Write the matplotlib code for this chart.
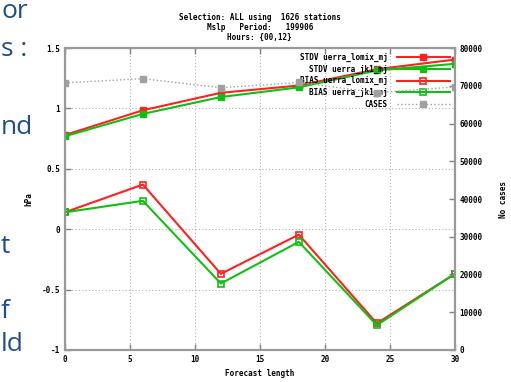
import numpy as np
import matplotlib.pyplot as plt

# forecast lengths (hours)
fclen = [0, 6, 12, 18, 24, 30]

stdv_lomix = [0.78, 0.985, 1.13, 1.19, 1.325, 1.405]
stdv_jk1 = [0.77, 0.955, 1.095, 1.175, 1.315, 1.37]
bias_lomix = [0.14, 0.37, -0.37, -0.045, -0.78, -0.37]
bias_jk1 = [0.14, 0.235, -0.45, -0.105, -0.795, -0.37]
cases = [70800, 71900, 69500, 70900, 68200, 69700]

title = "Selection: ALL using  1626 stations\nMslp   Period:   199906\nHours: {00,12}"
labels = ["STDV uerra_lomix_mj", "STDV uerra_jk1_mj",
          "BIAS uerra_lomix_mj", "BIAS uerra_jk1_mj", "CASES"]

mono = "DejaVu Sans Mono"
tsize = 5.5
red = "#ff2020"
green = "#10c010"
grey = "#a0a0a0"

fig = plt.figure(figsize=(5.11, 3.82), dpi=100)
ax = fig.add_axes([0.127, 0.084, 0.763, 0.79])
ax2 = ax.twinx()

h1, = ax.plot(fclen, stdv_lomix, "-", color=red, lw=1.5, marker="s", ms=4)
h2, = ax.plot(fclen, stdv_jk1, "-", color=green, lw=1.5, marker="s", ms=4)
h3, = ax.plot(fclen, bias_lomix, "-", color=red, lw=1.5, marker="s", ms=4,
              mfc="none", mew=1.2)
h4, = ax.plot(fclen, bias_jk1, "-", color=green, lw=1.5, marker="s", ms=4,
              mfc="none", mew=1.2)
h5, = ax2.plot(fclen, cases, ":", color=grey, lw=1, marker="s", ms=5)

ax.set_xlim(0, 30)
ax.set_ylim(-1, 1.5)
ax2.set_ylim(0, 80000)
ax.set_xticks(range(0, 31, 5))
ax.set_yticks([-1, -0.5, 0, 0.5, 1, 1.5])
ax.set_yticklabels(["-1", "-0.5", "0", "0.5", "1", "1.5"])
ax2.set_yticks(range(0, 80001, 10000))

ax.grid(True, ls=(0, (1, 2)), color="#b0b0b0", lw=0.8)
for a in (ax, ax2):
    a.tick_params(direction="in", length=4, width=1, color="#808080",
                  labelsize=tsize, top=True)
    for lab in a.get_xticklabels() + a.get_yticklabels():
        lab.set_fontfamily(mono)
        lab.set_fontweight("bold")
    for s in a.spines.values():
        s.set_color("#999999")
        s.set_linewidth(1.5)

ax.set_xlabel("Forecast length", fontsize=tsize, family=mono, fontweight="bold")
ax.set_ylabel("hPa", fontsize=tsize, family=mono, fontweight="bold", labelpad=6)
ax2.set_ylabel("No cases", fontsize=tsize, family=mono, fontweight="bold",
               labelpad=12)
ax.set_title(title, fontsize=tsize, family=mono, fontweight="bold",
             linespacing=1.1, pad=6)

ax.legend([h1, h2, h3, h4, h5], labels, loc="upper right", frameon=False,
          markerfirst=False, handlelength=7, handletextpad=1.2,
          borderaxespad=0.2, labelspacing=0.35,
          prop={"family": mono, "size": tsize, "weight": "bold"})

# slide text at the left edge
slide = [("or", 18), ("s :", 56), ("nd", 134), ("t", 253), ("f", 318), ("ld", 351)]
for txt, y in slide:
    fig.text(0.002, 1 - y / 382, txt, ha="left", va="baseline",
             fontsize=19, color="#1f4e8c", family="Open Sans")

fig.savefig("out.png", dpi=100)
